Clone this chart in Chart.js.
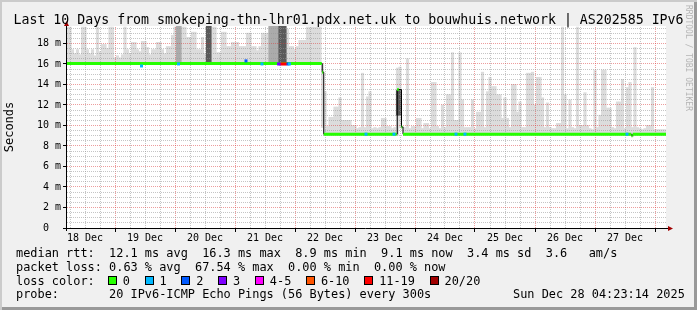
<!DOCTYPE html>
<html>
<head>
<meta charset="utf-8">
<script src="https://cdn.jsdelivr.net/npm/chart.js@4.4.1/dist/chart.umd.min.js"></script>
<style>
body { margin: 0; }
#wrap { position: relative; width: 697px; height: 310px; background: #f0f0f0; overflow: hidden;
        box-shadow: inset 2px 2px 0 #cbcbcb, inset -3px -3px 0 #999; font-family: 'DejaVu Sans Mono', monospace; color: #000; }
#graph { position: absolute; left: 0; top: 0; }
#title { position: absolute; left: 0; top: 11.7px; width: 697px; text-align: center; font-size: 13.25px; line-height: 15.4px; white-space: pre; }
#mark { position: absolute; left: 684px; top: 5px; writing-mode: vertical-rl; font-size: 8px; line-height: 9px; color: #b5b5b5; white-space: pre; }
#legend { position: absolute; left: 16px; top: 247.3px; font-size: 11.9px; line-height: 13.7px; }
#legend div { height: 13.7px; white-space: pre; }
.sw { display: inline-block; width: 7px; height: 7px; border: 1px solid #000; margin-right: 6px; }
.it { margin-right: 14.6px; }
#stamp { position: absolute; left: 513px; top: 288.4px; font-size: 11.9px; line-height: 13.7px; white-space: pre; }
</style>
</head>
<body>
<div id="wrap">
  <canvas id="graph" width="697" height="310"></canvas>
  <div id="title">Last 10 Days from smokeping-thn-lhr01.pdx.net.uk to bouwhuis.network | AS202585 IPv6</div>
  <div id="mark">RRDTOOL / TOBI OETIKER</div>
  <div id="legend"><div>median rtt:  12.1 ms avg  16.3 ms max  8.9 ms min  9.1 ms now  3.4 ms sd  3.6   am/s</div><div>packet loss: 0.63 % avg  67.54 % max  0.00 % min  0.00 % now</div><div id="losses">loss color:<span style="margin-left:13px"></span></div><div>probe:       20 IPv6-ICMP Echo Pings (56 Bytes) every 300s</div></div>
  <div id="stamp">Sun Dec 28 04:23:14 2025</div>
</div>
<script>
// hours counted from 18 Dec 00:00
var dayLabels = ['18 Dec','19 Dec','20 Dec','21 Dec','22 Dec','23 Dec','24 Dec','25 Dec','26 Dec','27 Dec'];

// top of the smoke (ms), one value per hour starting at hour 5
var firstHour = 5;
var smokeTop = [
	19.6, 19.6, 17.4, 17.0, 17.4, 16.9,  19.6, 19.6, 17.4, 17.0, 17.4, 16.8,
	19.6, 17.2, 17.9, 17.9, 17.5, 19.6,  19.6, 16.6, 16.8, 16.6, 16.9, 19.6,
	17.4, 17.0, 18.1, 18.1, 17.4, 17.2,  18.2, 18.2, 17.6, 16.9, 17.4, 17.4,
	18.1, 18.1, 17.4, 17.0, 17.7, 17.7,  18.8, 19.6, 19.6, 19.6, 19.6, 19.6,
	18.6, 18.6, 19.1, 19.1, 17.4, 17.4,  18.6, 17.0, 19.6, 19.6, 19.6, 19.6,
	17.1, 17.1, 19.1, 19.1, 17.7, 17.7,  18.1, 18.1, 18.1, 17.7, 17.7, 17.7,
	19.0, 19.0, 17.7, 17.7, 17.3, 17.7,  19.0, 19.0, 19.0, 19.6, 19.6, 19.6,
	19.6, 19.6, 19.6, 19.4, 19.4, 17.7,  17.7, 17.4, 17.7, 18.3, 18.3, 18.3,
	19.6, 19.6, 19.6, 19.6, 19.6, 19.6,
	9.8, 13.3, 9.9, 10.8, 10.8, 11.8,    11.8, 12.7, 10.5, 10.5, 10.5, 10.5,
	10.0, 10.0, 9.7, 9.8, 15.1, 9.8,     12.8, 13.3, 9.7, 9.8, 9.7, 9.8,
	10.7, 10.7, 9.9, 9.9, 9.7, 9.8,      15.6, 15.7, 9.9, 9.8, 16.5, 9.7,
	9.9, 9.9, 10.7, 10.7, 9.7, 10.2,     10.2, 9.7, 14.2, 14.2, 9.9, 9.7,
	12.0, 9.8, 13.0, 13.0, 17.1, 10.5,   10.5, 17.1, 12.5, 9.8, 9.8, 9.8,
	12.5, 9.7, 11.3, 11.3, 15.2, 9.8,    13.3, 14.7, 13.8, 13.8, 13.0, 13.0,
	10.7, 12.7, 10.7, 9.8, 14.0, 14.0,   11.3, 12.3, 9.8, 9.8, 15.1, 15.1,
	15.2, 12.0, 14.7, 14.7, 12.7, 9.8,   12.2, 9.8, 9.7, 9.7, 10.2, 10.2,
	19.6, 13.0, 9.7, 12.5, 9.8, 9.7,     19.6, 10.0, 10.0, 13.2, 10.0, 9.7,
	9.6, 15.4, 9.8, 11.0, 15.4, 15.4,    11.7, 11.7, 9.8, 9.7, 12.3, 12.3,
	14.5, 9.7, 13.7, 14.2, 9.8, 17.6,    9.8, 9.7, 9.6, 9.7, 10.0, 10.0,
	13.7, 9.6, 9.6, 9.6, 9.6, 9.6
];

// denser smoke columns
var midHours = [49, 50, 86, 87, 88, 89];
var midTop   = [19.7, 19.7, 19.7, 19.7, 19.7, 19.7];
var darkHours = [61, 62, 90, 91, 92, 137, 138];
var darkLow   = [16.0, 16.0, 16.0, 16.0, 16.0, 11.0, 11.0];
var darkHigh  = [19.7, 19.7, 19.7, 19.7, 19.7, 13.4, 13.4];

// median rtt, piecewise constant
var segStart = [4.8, 106.9, 107.5, 136.9, 138.6, 139.2, 230.6, 231.1];
var segEnd   = [106.7, 107.3, 136.7, 137.5, 138.9, 230.5, 231.0, 244.4];
var segValue = [16.05, 15.2, 9.15, 13.5, 9.85, 9.15, 9.0, 9.15];

// samples with packet loss (index into lossColors)
var lossHours  = [34.6, 49.4, 76.4, 82.8, 89.4, 90.0, 90.8, 91.6, 92.4, 93.2, 93.8, 124.4, 135.6, 160.4, 164.0, 228.8];
var lossValues = [15.8, 16.0, 16.3, 16.0, 16.0, 16.0, 16.0, 16.0, 16.0, 16.0, 16.0, 9.15, 9.15, 9.15, 9.15, 9.15];
var lossLevels = [1, 1, 2, 1, 3, 3, 6, 6, 6, 2, 1, 1, 1, 1, 1, 1];

var lossLabels = ['0', '1', '2', '3', '4-5', '6-10', '11-19', '20/20'];
var lossColors = ['#26ff00', '#00b8ff', '#0059ff', '#7e00ff', '#ff00ff', '#ff5500', '#ff0000', '#a10000'];

var mono = "'DejaVu Sans Mono', monospace";

// legend swatches
var row = document.getElementById('losses');
for (var k = 0; k < lossLabels.length; k++) {
	var sw = document.createElement('span');
	sw.className = 'sw';
	sw.style.background = lossColors[k];
	var lb = document.createElement('span');
	lb.className = 'it';
	lb.textContent = lossLabels[k];
	row.appendChild(sw);
	row.appendChild(lb);
}

function medianAt(h) {
	for (var i = 0; i < segStart.length; i++) {
		if (h <= segEnd[i] + 0.3) return segValue[i];
	}
	return segValue[segValue.length - 1];
}

var lightData = smokeTop.map(function(t, i) {
	var h = firstHour + i;
	return {x: h, y: [medianAt(h) - 0.1, t]};
});
var midData = midHours.map(function(h, i) { return {x: h, y: [medianAt(h) - 0.1, midTop[i]]}; });
var darkData = darkHours.map(function(h, i) { return {x: h, y: [darkLow[i], darkHigh[i]]}; });

var greenData = [];
var blackData = [];
for (var i = 0; i < segStart.length; i++) {
	greenData.push({x: segStart[i], y: segValue[i]});
	greenData.push({x: segEnd[i], y: segValue[i]});
	greenData.push({x: segEnd[i] + 0.05, y: null});
	blackData.push({x: segStart[i], y: segValue[i]});
}
blackData.push({x: segEnd[segEnd.length - 1], y: segValue[segValue.length - 1]});

var lossData = lossHours.map(function(h, i) { return {x: h, y: lossValues[i]}; });

var gridHours = [];
for (var g = 6; g <= 240; g += 6) gridHours.push(g);
var gridMs = [];
for (var v = 0; v <= 19.5; v += 0.5) gridMs.push(v);

var majorGrid = 'rgba(220,60,60,0.5)';
var minorGrid = 'rgba(150,150,150,0.55)';

var frame = {
	id: 'frame',
	beforeDraw: function(chart) {
		var ctx = chart.ctx, a = chart.chartArea;
		ctx.save();
		ctx.fillStyle = '#fff';
		ctx.fillRect(a.left, a.top, a.right - a.left, a.bottom - a.top);
		ctx.restore();
	},
	// grid goes over the smoke but under the median line
	afterDatasetDraw: function(chart, args) {
		if (args.index !== 3) return;
		var ctx = chart.ctx, a = chart.chartArea;
		var xs = chart.scales.x, ys = chart.scales.y;
		ctx.save();
		ctx.lineWidth = 1;
		ctx.setLineDash([1, 1]);
		gridHours.forEach(function(h) {
			var px = Math.floor(xs.getPixelForValue(h)) + 0.5;
			ctx.strokeStyle = h % 24 === 0 ? majorGrid : minorGrid;
			ctx.beginPath();
			ctx.moveTo(px, a.bottom);
			ctx.lineTo(px, a.top);
			ctx.stroke();
		});
		gridMs.forEach(function(m) {
			if (m === 0) return;
			var py = Math.floor(ys.getPixelForValue(m)) + 0.5;
			ctx.strokeStyle = m % 2 === 0 ? majorGrid : minorGrid;
			ctx.beginPath();
			ctx.moveTo(a.left, py);
			ctx.lineTo(a.right, py);
			ctx.stroke();
		});
		ctx.restore();
	},
	afterDraw: function(chart) {
		var ctx = chart.ctx, a = chart.chartArea;
		var xs = chart.scales.x, ys = chart.scales.y;
		var x0 = a.left - 0.5, y0 = a.bottom + 0.5;
		ctx.save();
		ctx.strokeStyle = '#000';
		ctx.lineWidth = 1;
		ctx.beginPath();
		ctx.moveTo(x0, a.bottom + 3);
		ctx.lineTo(x0, a.top);
		ctx.moveTo(a.left - 4, y0);
		ctx.lineTo(a.right + 2, y0);
		gridHours.forEach(function(h) {
			if (h % 24 !== 0) return;
			var px = Math.floor(xs.getPixelForValue(h)) + 0.5;
			ctx.moveTo(px, a.bottom + 1);
			ctx.lineTo(px, a.bottom + 4);
		});
		gridMs.forEach(function(m) {
			if (m % 2 !== 0 || m === 0) return;
			var py = Math.floor(ys.getPixelForValue(m)) + 0.5;
			ctx.moveTo(a.left - 4, py);
			ctx.lineTo(a.left - 1, py);
		});
		ctx.stroke();
		ctx.fillStyle = '#a00000';
		ctx.beginPath();
		ctx.moveTo(x0, a.top - 5);
		ctx.lineTo(x0 - 2.5, a.top);
		ctx.lineTo(x0 + 2.5, a.top);
		ctx.closePath();
		ctx.fill();
		ctx.beginPath();
		ctx.moveTo(a.right + 7, y0);
		ctx.lineTo(a.right + 2, y0 - 2.5);
		ctx.lineTo(a.right + 2, y0 + 2.5);
		ctx.closePath();
		ctx.fill();
		ctx.restore();
	}
};

new Chart(document.getElementById('graph'), {
	type: 'bar',
	data: {
		datasets: [
			{
				type: 'line', data: lossData, showLine: false, order: 0,
				pointStyle: 'rect', pointRadius: 2.1, pointBorderWidth: 0,
				pointBackgroundColor: function(c) { return lossColors[lossLevels[c.dataIndex]]; }
			},
			{
				type: 'line', data: greenData, order: 1, borderColor: '#26ff00', borderWidth: 3,
				pointRadius: 0, spanGaps: false, borderCapStyle: 'butt'
			},
			{
				type: 'line', data: blackData, order: 2, borderColor: '#000', borderWidth: 1,
				pointRadius: 0, stepped: true
			},
			{ data: darkData, order: 3, backgroundColor: '#5a5a5a', grouped: false, barPercentage: 1, categoryPercentage: 1, borderWidth: 0 },
			{ data: midData, order: 4, backgroundColor: '#ababab', grouped: false, barPercentage: 1, categoryPercentage: 1, borderWidth: 0 },
			{ data: lightData, order: 5, backgroundColor: '#dcdcdc', grouped: false, barPercentage: 1, categoryPercentage: 1, borderWidth: 0 }
		]
	},
	options: {
		responsive: false,
		animation: false,
		devicePixelRatio: 1,
		layout: { padding: { left: 0, top: 26, right: 31, bottom: 62 } },
		plugins: { legend: { display: false }, tooltip: { enabled: false } },
		scales: {
			x: {
				type: 'linear', min: 4.8, max: 244.4, offset: false,
				afterBuildTicks: function(s) { s.ticks = gridHours.map(function(h) { return {value: h}; }); },
				afterFit: function(s) { s.height = 20; },
				ticks: {
					autoSkip: false, maxRotation: 0, padding: 1, color: '#000',
					font: { family: mono, size: 10 },
					callback: function(h) { return h % 24 === 12 ? dayLabels[(h - 12) / 24] : ''; }
				},
				grid: { offset: false, drawOnChartArea: false, tickLength: 3, color: 'rgba(0,0,0,0)', tickColor: 'rgba(0,0,0,0)' },
				border: { display: false }
			},
			y: {
				type: 'linear', min: 0, max: 19.7,
				afterBuildTicks: function(s) { s.ticks = gridMs.map(function(m) { return {value: m}; }); },
				afterFit: function(s) { s.width = 67; },
				ticks: {
					autoSkip: false, padding: 3, color: '#000',
					font: { family: mono, size: 10 },
					callback: function(m) { return m % 2 === 0 ? (m === 0 ? '0  ' : m + ' m') : ''; }
				},
				grid: { drawOnChartArea: false, tickLength: 3, color: 'rgba(0,0,0,0)', tickColor: 'rgba(0,0,0,0)' },
				border: { display: false },
				title: { display: true, text: 'Seconds', color: '#000', font: { family: mono, size: 12 }, padding: { top: 3, bottom: 0 } }
			}
		}
	},
	plugins: [frame]
});
</script>
</body>
</html>
